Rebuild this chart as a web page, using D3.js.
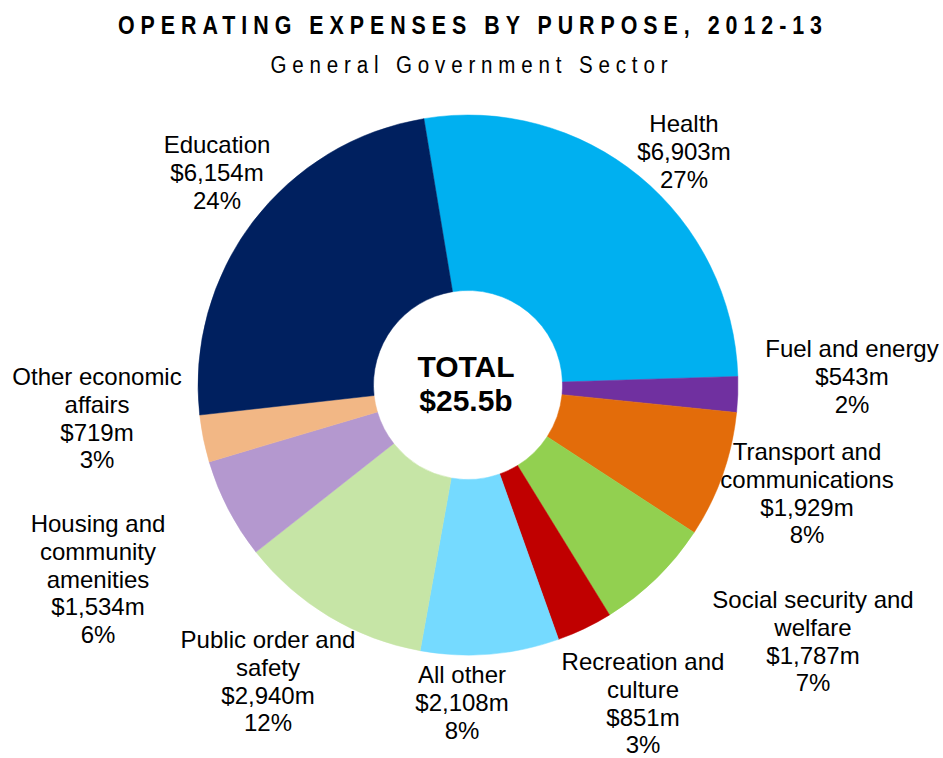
<!DOCTYPE html>
<html>
<head>
<meta charset="utf-8">
<script src="https://cdn.jsdelivr.net/npm/d3@7"></script>
<style>
  html, body { margin: 0; padding: 0; background: #ffffff; }
  svg { display: block; }
</style>
</head>
<body>
<div id="chart"></div>
<script>
// ---------------- data ----------------
const categories = [
  "Health",
  "Fuel and energy",
  "Transport and communications",
  "Social security and welfare",
  "Recreation and culture",
  "All other",
  "Public order and safety",
  "Housing and community amenities",
  "Other economic affairs",
  "Education"
];
const values = [6903, 543, 1929, 1787, 851, 2108, 2940, 1534, 719, 6154]; // $m
const titleText = "OPERATING EXPENSES BY PURPOSE, 2012-13";
const subtitleText = "General Government Sector";
const centerLabel = "TOTAL";

// ---------------- styling / layout ----------------
const colors = ["#00B0F0", "#7030A0", "#E36C0A", "#92D050", "#C00000",
                "#75DAFF", "#C6E5A6", "#B498CF", "#F2B785", "#00205F"];
// label line breaks (text wrapping as in the original)
const labelWrap = [
  ["Health"],
  ["Fuel and energy"],
  ["Transport and", "communications"],
  ["Social security and", "welfare"],
  ["Recreation and", "culture"],
  ["All other"],
  ["Public order and", "safety"],
  ["Housing and", "community", "amenities"],
  ["Other economic", "affairs"],
  ["Education"]
];
// label anchor offsets relative to the pie centre (first baseline)
const labelOffset = [
  [216, -253], [384, -28], [339, 75], [345, 223], [175, 285],
  [-6, 298], [-200, 263], [-370, 147], [-371, 0], [-251, -232]
];

const W = 943, H = 758;
const cx = 468, cy = 385;
const outerR = 270, innerR = 94.5;
const startDeg = -9.4;
const lineH = 27.8;

const svg = d3.select("#chart").append("svg")
  .attr("width", W).attr("height", H)
  .attr("viewBox", `0 0 ${W} ${H}`);

// ---------------- title (narrow font detection) ----------------
function textWidth(family, weight, size, txt) {
  const t = svg.append("text").attr("font-family", family)
    .attr("font-weight", weight).attr("font-size", size).text(txt);
  const w = t.node().getComputedTextLength();
  t.remove();
  return w;
}
const probe = "OPERATING General 2012";
const hasNarrow = Math.abs(textWidth("'Liberation Sans Narrow', monospace", "bold", 25, probe) -
                           textWidth("monospace", "bold", 25, probe)) > 0.5;
const titleFamily = hasNarrow ? "'Liberation Sans Narrow', 'Arial Narrow', sans-serif"
                              : "'Liberation Sans', Arial, sans-serif";
const sx = hasNarrow ? 1 : 0.84;

function drawTitle(txt, x, y, size, weight, width) {
  svg.append("text")
    .attr("transform", `translate(${x},${y}) scale(${sx},1)`)
    .attr("x", 0).attr("y", 0)
    .attr("text-anchor", "middle")
    .attr("font-family", titleFamily)
    .attr("font-weight", weight)
    .attr("font-size", size)
    .attr("fill", "#000")
    .attr("textLength", width / sx)
    .attr("lengthAdjust", "spacing")
    .text(txt);
}
drawTitle(titleText, 470, 34, 25.5, "bold", 704);
drawTitle(subtitleText, 469, 72.5, 24.5, "normal", 397);

// ---------------- pie ----------------
const total = d3.sum(values);
const rad = startDeg * Math.PI / 180;
const pie = d3.pie().sort(null).value(d => d.value)
  .startAngle(rad).endAngle(rad + 2 * Math.PI);
const arcs = pie(categories.map((c, i) => ({ name: c, value: values[i], i })));
const arc = d3.arc().innerRadius(innerR).outerRadius(outerR);

const g = svg.append("g").attr("transform", `translate(${cx},${cy})`);
g.selectAll("path.slice").data(arcs).join("path")
  .attr("class", "slice")
  .attr("d", arc)
  .attr("fill", d => colors[d.data.i])
  .attr("stroke", d => colors[d.data.i])
  .attr("stroke-width", 0.5);

// centre text
const fmtB = v => "$" + d3.format(".1f")(v / 1000) + "b";
g.append("text").attr("x", -2).attr("y", -8)
  .attr("text-anchor", "middle")
  .attr("font-family", "'Liberation Sans', Arial, sans-serif")
  .attr("font-weight", "bold").attr("font-size", 30)
  .text(centerLabel);
g.append("text").attr("x", -2).attr("y", 26)
  .attr("text-anchor", "middle")
  .attr("font-family", "'Liberation Sans', Arial, sans-serif")
  .attr("font-weight", "bold").attr("font-size", 30)
  .text(fmtB(total));

// ---------------- labels ----------------
const fmtM = v => "$" + d3.format(",")(v) + "m";
const fmtP = v => d3.format(".0%")(v);
const lg = g.append("g")
  .attr("font-family", "'Liberation Sans', Arial, sans-serif")
  .attr("font-size", 24)
  .attr("fill", "#000")
  .attr("text-anchor", "middle");
arcs.forEach(d => {
  const i = d.data.i;
  const lines = labelWrap[i].concat([fmtM(d.data.value), fmtP(d.data.value / total)]);
  const t = lg.append("text")
    .attr("x", labelOffset[i][0])
    .attr("y", labelOffset[i][1]);
  lines.forEach((ln, k) => {
    t.append("tspan")
      .attr("x", labelOffset[i][0])
      .attr("y", labelOffset[i][1] + k * lineH)
      .text(ln);
  });
});
</script>
</body>
</html>
